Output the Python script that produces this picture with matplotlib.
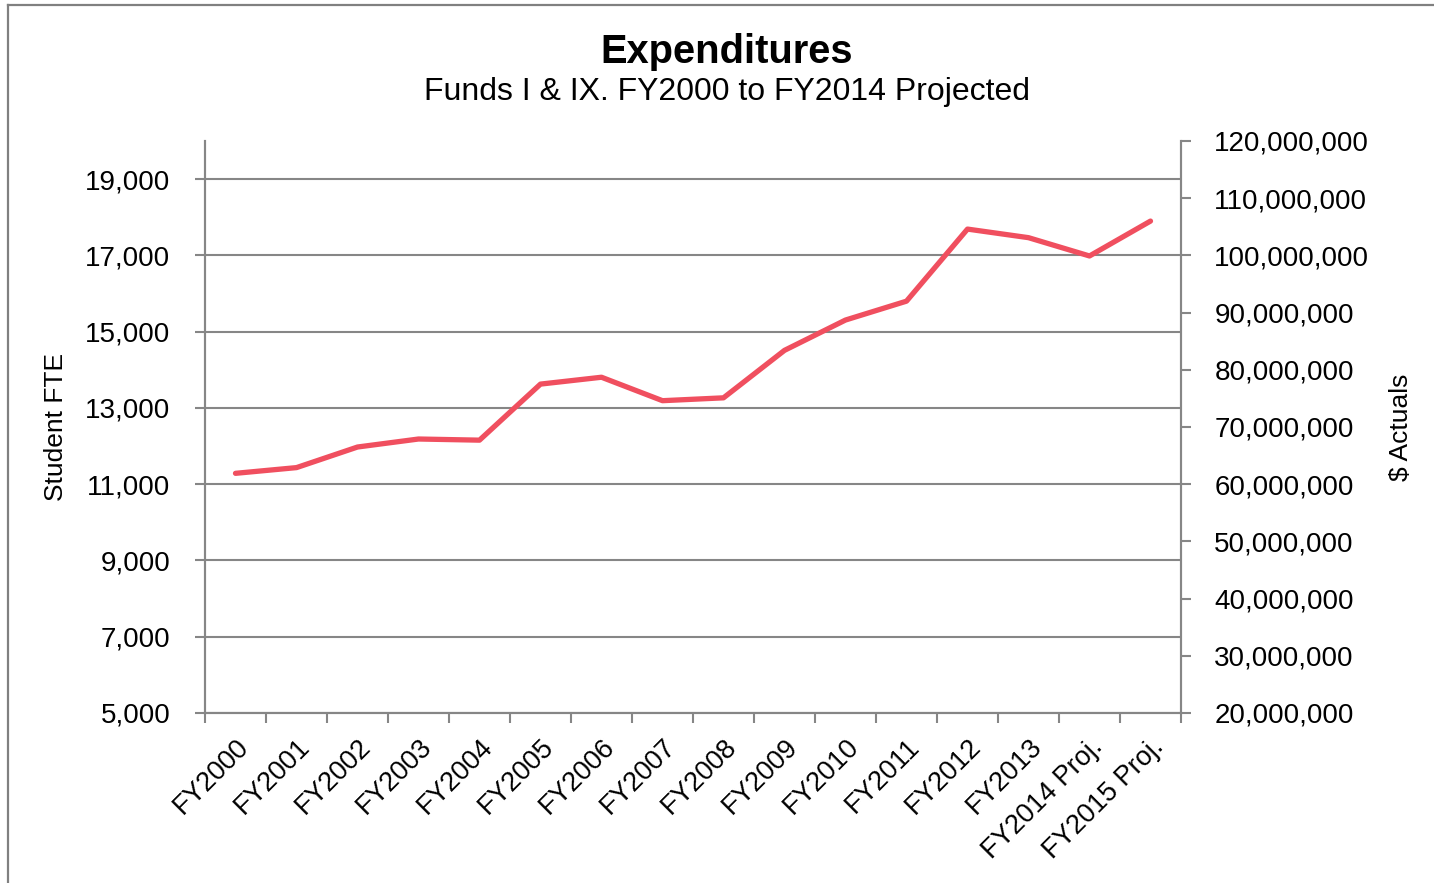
import matplotlib.pyplot as plt
import numpy as np
from matplotlib.lines import Line2D
from matplotlib.ticker import FuncFormatter

plt.rcParams['font.family'] = ['Liberation Sans', 'DejaVu Sans']

# Datos del grafico
years = ["FY2000", "FY2001", "FY2002", "FY2003", "FY2004", "FY2005", "FY2006",
         "FY2007", "FY2008", "FY2009", "FY2010", "FY2011", "FY2012", "FY2013",
         "FY2014 Proj.", "FY2015 Proj."]
actuals = [61.9e6, 62.9e6, 66.5e6, 67.9e6, 67.7e6, 77.5e6, 78.7e6, 74.6e6,
           75.1e6, 83.4e6, 88.7e6, 92.0e6, 104.6e6, 103.1e6, 99.9e6, 106.0e6]
fte_ticks = [5000, 7000, 9000, 11000, 13000, 15000, 17000, 19000]
dollar_ticks = [20e6, 30e6, 40e6, 50e6, 60e6, 70e6, 80e6, 90e6, 100e6, 110e6, 120e6]

grey = "#868686"
red = "#F04F5F"

fig = plt.figure(figsize=(14.34, 8.83), dpi=100)
ax = fig.add_axes([205 / 1434, 1 - 713 / 883, (1181 - 205) / 1434, (713 - 141) / 883])
ax2 = ax.twinx()

x = np.arange(len(years))

# Eje izquierdo (Student FTE) con la cuadricula
ax.set_ylim(5000, 20000)
ax.set_yticks(fte_ticks)
ax.yaxis.set_major_formatter(FuncFormatter(lambda v, p: f"{int(v):,}"))
ax.grid(axis="y", color=grey, linewidth=1.5)
ax.set_axisbelow(True)
ax.set_xlim(-0.5, len(years) - 0.5)
ax.set_xticks(x)
ax.set_xticklabels(years, rotation=45, ha="right", rotation_mode="anchor", fontsize=19.5)
ax.set_xticks(np.arange(-0.5, len(years), 1), minor=True)
ax.tick_params(axis="x", which="major", length=0, pad=15)
ax.tick_params(axis="x", which="minor", length=7, width=1.5, color=grey)
ax.tick_params(axis="y", length=7, width=1.5, color=grey, labelsize=20, pad=18)
ax.set_ylabel("Student FTE", fontsize=19, labelpad=12)

# Eje derecho ($ Actuals)
ax2.plot(x, actuals, color=red, linewidth=3.8, solid_capstyle="round", solid_joinstyle="round")
ax2.set_ylim(20e6, 120e6)
ax2.set_yticks(dollar_ticks)
ax2.yaxis.set_major_formatter(FuncFormatter(lambda v, p: f"{int(v):,}"))
ax2.tick_params(axis="y", length=7, width=1.5, color=grey, labelsize=20, pad=17)
ax2.set_ylabel("$ Actuals", fontsize=19, labelpad=14)

for a in (ax, ax2):
    a.spines["top"].set_visible(False)
    for s in ("left", "right", "bottom"):
        a.spines[s].set_color(grey)
        a.spines[s].set_linewidth(1.5)

fig.text(727 / 1434, 1 - 63 / 883, "Expenditures", fontsize=28.7, fontweight="bold", ha="center", va="baseline")
fig.text(727 / 1434, 1 - 100 / 883, "Funds I & IX. FY2000 to FY2014 Projected", fontsize=23, ha="center", va="baseline")

# Marco gris
fig.add_artist(Line2D([8 / 1434, 1], [1 - 5 / 883, 1 - 5 / 883], color="#808080", linewidth=1.6, transform=fig.transFigure))
fig.add_artist(Line2D([8 / 1434, 8 / 1434], [0, 1 - 5 / 883], color="#808080", linewidth=1.6, transform=fig.transFigure))

fig.savefig("out.png", dpi=100)
